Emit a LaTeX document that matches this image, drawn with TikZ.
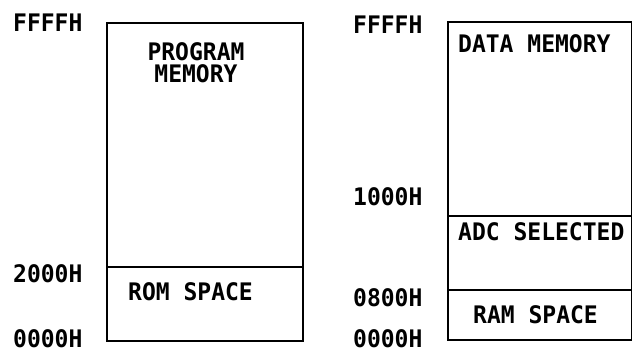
\documentclass[tikz,border=0pt]{standalone}
\usepackage{fontspec}
\newfontfamily\mapfont{DejaVu Sans Mono Bold}
\usepackage{tikz}
\usetikzlibrary{positioning}

\begin{document}
\begin{tikzpicture}[
		x=1pt,
		y=-1pt,
		font=\mapfont\fontsize{23}{21}\selectfont,
		block/.style={line width=1.8pt},
		divider/.style={line width=1.5pt},
		addr/.style={anchor=west, inner sep=0pt, yscale=1.05, transform shape},
		area/.style={inner sep=0pt, yscale=1.05, transform shape}
		]
		\useasboundingbox (0,0) rectangle (633,353);
		
		% Program memory map
		\draw[block] (107,23) rectangle (303,341);
		\draw[divider] (107,267) -- (303,267);
		\node[area, anchor=north, align=center] (progmem) at (196,42) {PROGRAM\\MEMORY};
		\node[area, anchor=west] (romspace) at (128,292) {ROM SPACE};
		\foreach \y/\lbl in {23/FFFFH, 274/2000H, 339/0000H}{
			\node[addr] (p\lbl) at (13,\y) {\lbl};
		}
		
		% Data memory map
		\draw[block] (448,22) rectangle (631.5,340);
		\draw[divider] (448,216) -- (631.5,216);
		\draw[divider] (448,290) -- (631.5,290);
		\node[area, anchor=west] (datamem) at (458,44) {DATA MEMORY};
		\node[area, anchor=west] (adcsel) at (458,232) {ADC SELECTED};
		\node[area, anchor=west] (ramspace) at (473,315) {RAM SPACE};
		\foreach \y/\lbl in {25/FFFFH, 197/1000H, 298/0800H, 339/0000H}{
			\node[addr] (d\lbl) at (353,\y) {\lbl};
		}
		
	\end{tikzpicture}
\end{document}
